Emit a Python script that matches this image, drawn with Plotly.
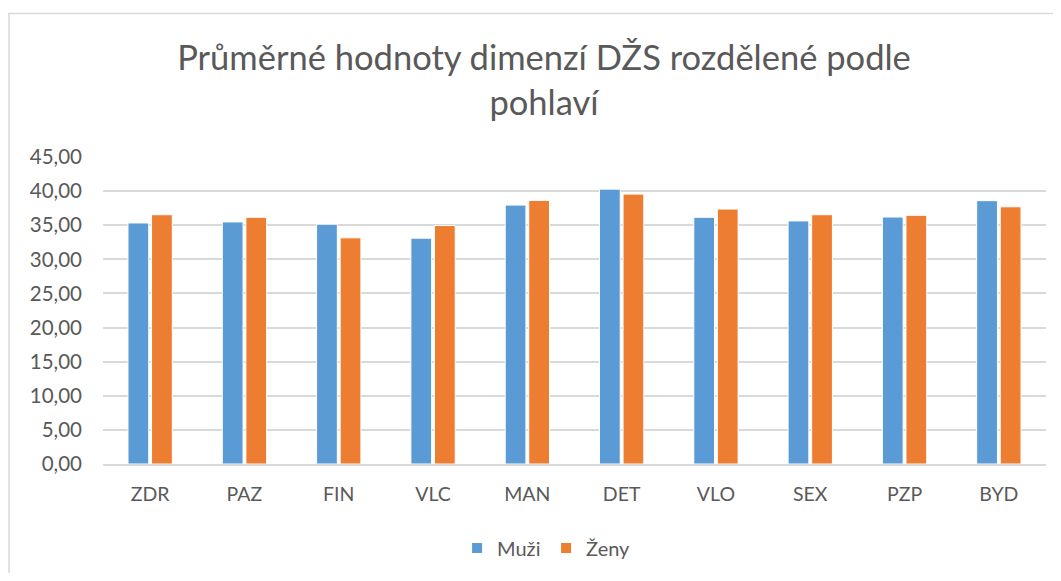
import plotly.graph_objects as go

categories = ["ZDR", "PAZ", "FIN", "VLC", "MAN", "DET", "VLO", "SEX", "PZP", "BYD"]
muzi = [35.33, 35.48, 35.15, 33.10, 37.95, 40.29, 36.16, 35.63, 36.20, 38.60]
zeny = [36.54, 36.16, 33.15, 34.95, 38.64, 39.56, 37.37, 36.54, 36.45, 37.70]
yticks = [0, 5, 10, 15, 20, 25, 30, 35, 40, 45]
ytick_labels = ["0,00", "5,00", "10,00", "15,00", "20,00", "25,00", "30,00", "35,00", "40,00", "45,00"]

# page body has an 8px margin, so the figure is laid out 8px in from the window edge
W, H = 1045, 565
L, R, T, B = 95, 7, 149, 108
pw, ph = W - L - R, H - T - B

font = "Lato, 'Open Sans', sans-serif"
fig = go.Figure()
fig.add_trace(go.Bar(name="Muži", x=categories, y=muzi, marker=dict(color="#5B9BD5", line=dict(color="white", width=1))))
fig.add_trace(go.Bar(name="Ženy", x=categories, y=zeny, marker=dict(color="#ED7D31", line=dict(color="white", width=1))))

fig.update_layout(
    width=W, height=H,
    margin=dict(l=L, r=R, t=T, b=B, pad=0),
    paper_bgcolor="white", plot_bgcolor="white",
    barmode="group", bargap=0.5, bargroupgap=0.12,
    title=dict(text="Průměrné hodnoty dimenzí DŽS rozdělené podle<br>pohlaví", x=536 / W, xanchor="center",
               y=1 - 62 / H, yanchor="top", font=dict(family=font, size=34.5, color="#595959")),
    font=dict(family=font, size=19.5, color="#595959"),
    showlegend=True,
    legend=dict(orientation="h", x=491 / W, xanchor="center", y=-(540 - (H - B)) / ph, yanchor="middle",
                font=dict(size=20, color="#595959"), itemsizing="constant", entrywidth=44),
    xaxis=dict(showgrid=False, showline=True, linecolor="#D9D9D9", linewidth=1.5, ticks="",
               ticklabelstandoff=12, tickfont=dict(size=19.5, color="#595959")),
    yaxis=dict(range=[0, 45], tickvals=yticks, ticktext=ytick_labels, showgrid=True, gridcolor="#D9D9D9",
               gridwidth=1.5, zeroline=False, showline=False, ticks="", ticklen=0,
               ticklabelstandoff=20, tickfont=dict(size=20.5, color="#595959")),
    shapes=[dict(type="rect", xref="paper", yref="paper",
                 x0=(1 - L) / pw, x1=(W + 20 - L) / pw, y0=-(B + 20) / ph, y1=(H - B - 5) / ph,
                 line=dict(color="#D9D9D9", width=1.5), fillcolor="rgba(0,0,0,0)", layer="below")],
)
fig.write_html("out.html")
